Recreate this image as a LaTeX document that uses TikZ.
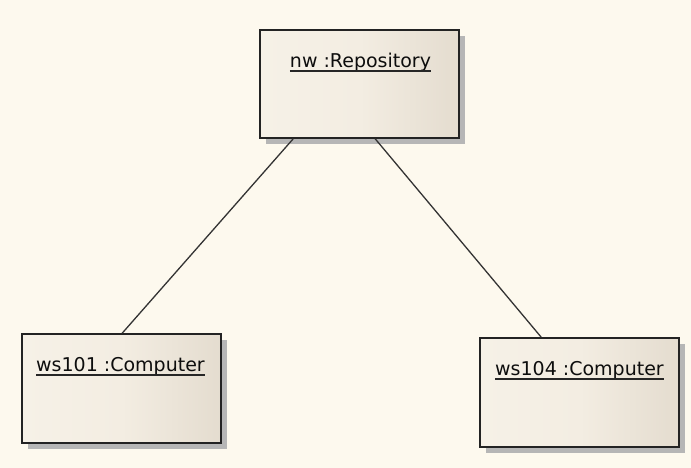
\documentclass[tikz,border=0pt]{standalone}
\usepackage{fontspec}
\setmainfont{DejaVu Sans}
\usetikzlibrary{shadows,calc}
\definecolor{bgc}{RGB}{253,249,238}
\definecolor{boxl}{RGB}{246,241,231}
\definecolor{boxm}{RGB}{243,237,226}
\definecolor{boxr}{RGB}{228,220,207}
\definecolor{shd}{RGB}{182,182,182}
\definecolor{edgec}{RGB}{35,35,35}
\tikzset{
  objbox/.style={rectangle, draw=edgec, line width=1.6pt, minimum width=199pt, minimum height=108pt,
    left color=boxl, right color=boxr, middle color=boxm, inner sep=0pt,
    drop shadow={shadow xshift=6pt, shadow yshift=-6pt, fill=shd, opacity=1}},
  objlabel/.style={anchor=base, inner sep=0pt, font=\fontsize{19}{22}\selectfont, text=black!95},
  uline/.style={draw=black!85, line width=1.5pt},
  link/.style={draw=black!80, line width=1.3pt}
}
\begin{document}
\begin{tikzpicture}[x=1pt,y=1pt]
\fill[bgc] (0,0) rectangle (691,-468);
\useasboundingbox (0,0) rectangle (691,-468);
\node[objbox] (repo) at (359.5,-84) {};
\node[objbox, minimum height=109pt] (c1) at (121.5,-388.5) {};
\node[objbox, minimum height=109pt] (c4) at (579.5,-392.5) {};
\node[objlabel] (lrepo) at ($(repo.north)+(1,-38)$) {nw :Repository};
\node[objlabel] (lc1) at ($(c1.north)+(-1,-38)$) {ws101 :Computer};
\node[objlabel] (lc4) at ($(c4.north)+(0,-38)$) {ws104 :Computer};
\draw[uline] ($(lrepo.base west)+(0,-4)$) -- ($(lrepo.base east)+(0,-4)$);
\draw[uline] ($(lc1.base west)+(0,-4)$) -- ($(lc1.base east)+(0,-4)$);
\draw[uline] ($(lc4.base west)+(0,-4)$) -- ($(lc4.base east)+(0,-4)$);
\draw[link] ([xshift=34pt]repo.south west) -- ([xshift=101pt]c1.north west);
\draw[link] ([xshift=116pt]repo.south west) -- ([xshift=62pt]c4.north west);
\end{tikzpicture}
\end{document}
